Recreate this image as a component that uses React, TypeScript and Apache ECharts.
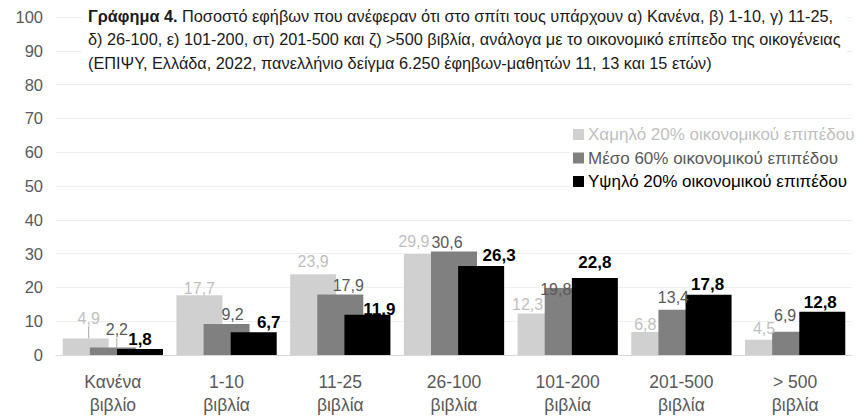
import React, { useEffect, useRef } from "react";
import * as echarts from "echarts";

const categories = ["Κανένα\nβιβλίο", "1-10\nβιβλία", "11-25\nβιβλία", "26-100\nβιβλία", "101-200\nβιβλία", "201-500\nβιβλία", "> 500\nβιβλία"];
const seriesNames = ["Χαμηλό 20% οικονομικού επιπέδου", "Μέσο 60% οικονομικού επιπέδου", "Υψηλό 20% οικονομικού επιπέδου"];
const lowValues = [4.9, 17.7, 23.9, 29.9, 12.3, 6.8, 4.5];
const midValues = [2.2, 9.2, 17.9, 30.6, 19.8, 13.4, 6.9];
const highValues = [1.8, 6.7, 11.9, 26.3, 22.8, 17.8, 12.8];
const yTicks = { min: 0, max: 100, interval: 10 };

const titleLines = [
  "Ποσοστό εφήβων που ανέφεραν ότι στο σπίτι τους υπάρχουν α) Κανένα, β) 1-10, γ) 11-25,",
  "δ) 26-100, ε) 101-200, στ) 201-500 και ζ) >500 βιβλία, ανάλογα με το οικονομικό επίπεδο της οικογένειας",
  "(ΕΠΙΨΥ, Ελλάδα, 2022, πανελλήνιο δείγμα 6.250 έφηβων-μαθητών 11, 13 και 15 ετών)",
];

// label nudges (layout only)
const labelNudges: number[][][] = [
  [[3, -9], [0, 4], [0, -2], [-13, -1], [-13, 2], [-9, 3], [-4, 0]],
  [[4, -7], [6, 2], [8, 2], [-7, 2], [-12, 12], [-8, -1], [-10, -5]],
  [[0, 2], [15, 2], [12, 6], [18, 1], [0, -4], [-1, 1], [-2, 2]],
];

const FONT = "'Liberation Sans', Arial, sans-serif";
const barColors = ["#d0d0d0", "#808080", "#000000"];
const labelColors = ["#bfbfbf", "#595959", "#000000"];

export default function App() {
  const ref = useRef<HTMLDivElement>(null);
  useEffect(() => {
    if (!ref.current) return;
    const chart = echarts.init(ref.current, undefined, { renderer: "svg" });
    const all = [lowValues, midValues, highValues];
    const series = all.map((vals, si) => ({
      name: seriesNames[si],
      type: "bar",
      barWidth: 46,
      barGap: "-41%",
      itemStyle: { color: barColors[si] },
      label: {
        show: true,
        position: "top",
        distance: 3,
        fontFamily: FONT,
        fontSize: si === 2 ? 17 : 16,
        fontWeight: si === 2 ? "bold" : "normal",
        color: labelColors[si],
        formatter: (p: any) => String(p.value).replace(".", ","),
      },
      labelLine: { show: false },
      labelLayout: (p: any) => ({ dx: labelNudges[si][p.dataIndex][0], dy: labelNudges[si][p.dataIndex][1] }),
      data: vals.map((v, i) =>
        i === 0 && si < 2
          ? { value: v, labelLine: { show: true, lineStyle: { color: "#a6a6a6", width: 1 } } }
          : v
      ),
    }));
    chart.setOption({
      animation: false,
      backgroundColor: "#fff",
      title: {
        text: "{b|Γράφημα 4.} " + titleLines.join("\n"),
        left: 82,
        top: 0,
        padding: [4, 6, 6, 6],
        backgroundColor: "#fff",
        textStyle: {
          fontFamily: FONT,
          fontSize: 16.3,
          fontWeight: "normal",
          color: "#1a1a1a",
          lineHeight: 23.5,
          rich: {
            b: { fontFamily: FONT, fontSize: 16.3, fontWeight: "bold", color: "#1a1a1a", lineHeight: 23.5 },
          },
        },
      },
      legend: {
        orient: "vertical",
        left: 569,
        top: 124,
        padding: [2, 2, 6, 4],
        backgroundColor: "#fff",
        itemWidth: 11,
        itemHeight: 11,
        itemGap: 6.5,
        icon: "rect",
        textStyle: { fontFamily: FONT, fontSize: 17, padding: [0, 0, 0, -1] },
        data: seriesNames.map((n, i) => ({ name: n, textStyle: { color: labelColors[i], fontFamily: FONT, fontSize: 17 } })),
      },
      grid: { left: 56, right: 15, top: 17, bottom: 54 },
      xAxis: {
        type: "category",
        data: categories,
        axisTick: { show: false },
        axisLine: { lineStyle: { color: "#d9d9d9" } },
        axisLabel: { color: "#595959", fontFamily: FONT, fontSize: 17.5, lineHeight: 23, margin: 15 },
      },
      yAxis: {
        type: "value",
        min: yTicks.min,
        max: yTicks.max,
        interval: yTicks.interval,
        axisLine: { show: false },
        axisTick: { show: false },
        splitLine: { lineStyle: { color: "#efefef" } },
        axisLabel: { color: "#595959", fontFamily: FONT, fontSize: 16.5, margin: 13 },
      },
      series,
    } as any);
    return () => chart.dispose();
  }, []);
  return <div ref={ref} style={{ width: 867, height: 416, position: "absolute", left: 0, top: 0 }} />;
}
